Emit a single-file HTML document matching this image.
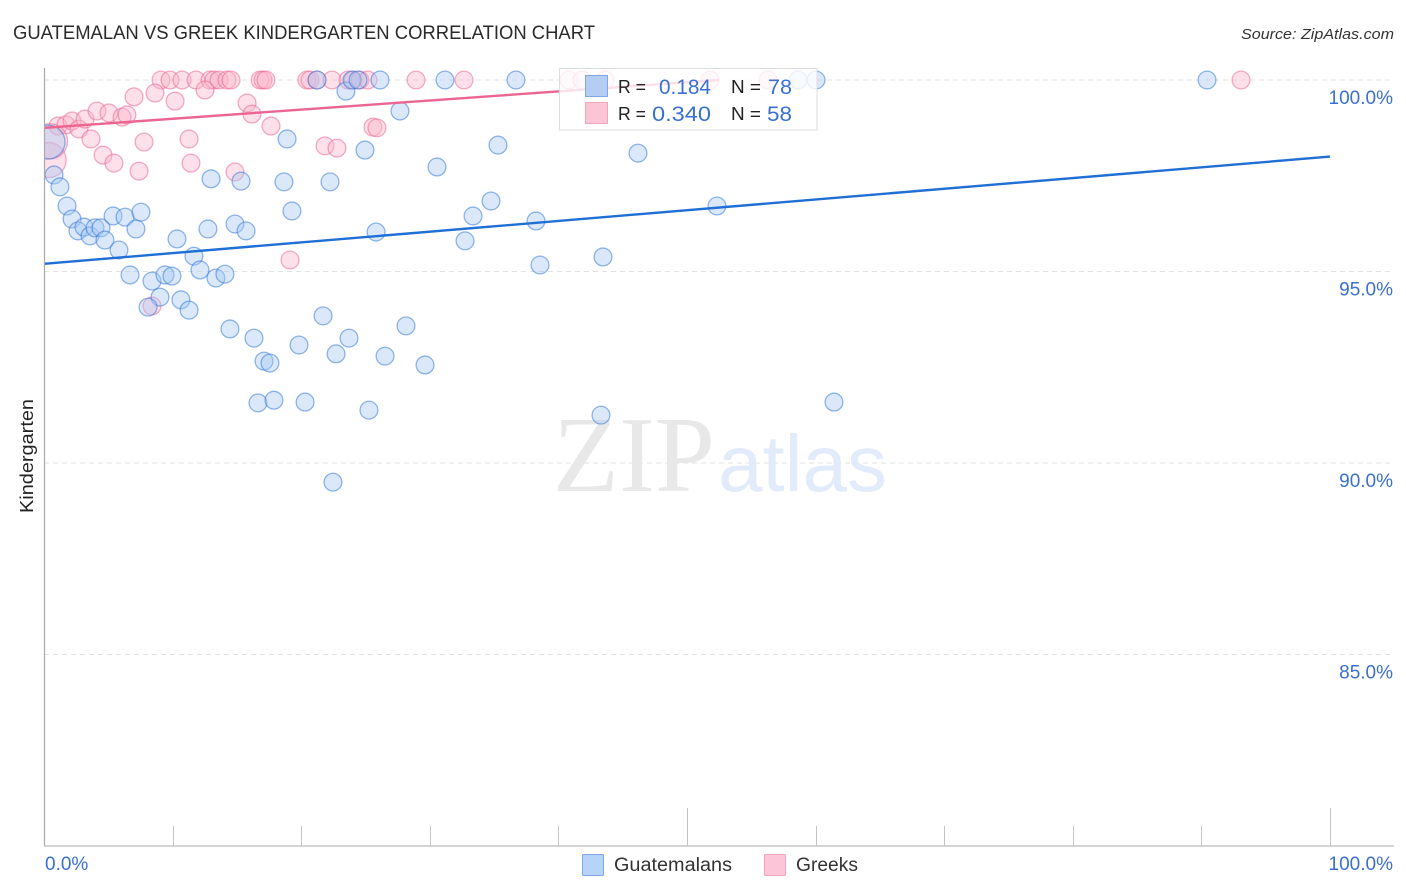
<!DOCTYPE html>
<html lang="en">
<head>
<meta charset="utf-8">
<title>Guatemalan vs Greek Kindergarten Correlation Chart</title>
<style>
html,body{margin:0;padding:0;background:#fff;width:1406px;height:892px;overflow:hidden}
svg{display:block;font-family:"Liberation Sans",sans-serif}
</style>
</head>
<body>
<svg id="chart" xmlns="http://www.w3.org/2000/svg" width="1406" height="892" viewBox="0 0 1406 892">
  <defs><clipPath id="plot-clip"><rect x="45" y="60" width="1350" height="786"/></clipPath></defs>
  <text x="13" y="39" font-size="19.5" fill="#2a2a2a" textLength="582" lengthAdjust="spacingAndGlyphs">GUATEMALAN VS GREEK KINDERGARTEN CORRELATION CHART</text>
  <text x="1241" y="39" font-size="15" font-style="italic" fill="#333" textLength="153" lengthAdjust="spacingAndGlyphs">Source: ZipAtlas.com</text>
  <text transform="translate(33,513) rotate(-90)" font-size="18" fill="#222" textLength="114" lengthAdjust="spacingAndGlyphs">Kindergarten</text>
  <g id="grid"></g>
  <g>
    <text x="553" y="491" font-family="'Liberation Serif',serif" font-size="108" fill="#e8e8e8" textLength="162" lengthAdjust="spacingAndGlyphs">ZIP</text>
    <text x="718" y="491" font-size="80" fill="#e2ebf9" textLength="169" lengthAdjust="spacingAndGlyphs">atlas</text>
  </g>
  <g id="points" clip-path="url(#plot-clip)"></g>
  <g id="trends"></g>
  <g id="axes"></g>
  <g>
    <rect x="559.5" y="68.5" width="257.5" height="61.5" fill="#fff" fill-opacity="0.8" stroke="#ddd" stroke-width="1"/>
    <rect x="585.5" y="75.5" width="22" height="21" fill="#b3cdf3" stroke="#7da7e6"/>
    <rect x="585.5" y="102.5" width="22" height="21" fill="#fcc5d6" stroke="#f2a5bf"/>
    <text x="618" y="93" font-size="18" fill="#222" textLength="28" lengthAdjust="spacingAndGlyphs">R =</text>
    <text x="659" y="94" font-size="21" fill="#3a70d2" textLength="52" lengthAdjust="spacingAndGlyphs">0.184</text>
    <text x="731" y="93" font-size="18" fill="#222" textLength="30" lengthAdjust="spacingAndGlyphs">N =</text>
    <text x="768" y="94" font-size="21" fill="#3a70d2" textLength="24" lengthAdjust="spacingAndGlyphs">78</text>
    <text x="618" y="120" font-size="18" fill="#222" textLength="28" lengthAdjust="spacingAndGlyphs">R =</text>
    <text x="652" y="121" font-size="21" fill="#3a70d2" textLength="59" lengthAdjust="spacingAndGlyphs">0.340</text>
    <text x="731" y="120" font-size="18" fill="#222" textLength="30" lengthAdjust="spacingAndGlyphs">N =</text>
    <text x="767" y="121" font-size="21" fill="#3a70d2" textLength="25" lengthAdjust="spacingAndGlyphs">58</text>
  </g>
  <g>
    <rect x="582.5" y="854.5" width="21" height="21" rx="1" fill="#b6d3f8" stroke="#7da7e6"/>
    <text x="614" y="871" font-size="19" fill="#333" textLength="118" lengthAdjust="spacingAndGlyphs">Guatemalans</text>
    <rect x="764.5" y="854.5" width="21" height="21" rx="1" fill="#fdc6d8" stroke="#f2a5bf"/>
    <text x="796" y="871" font-size="19" fill="#333" textLength="62" lengthAdjust="spacingAndGlyphs">Greeks</text>
  </g>
</svg>
<script>
const yTickValues = [100, 95, 90, 85];
const yTickLabels = ["100.0%", "95.0%", "90.0%", "85.0%"];
const xTickValues = [0, 10, 20, 30, 40, 50, 60, 70, 80, 90, 100];
const xMajorTicks = [50, 100];
const xEdgeLabels = ["0.0%", "100.0%"];

const guatemalanX = [0.78,1.24,1.79,2.18,2.64,3.11,3.58,3.97,4.43,4.74,5.37,5.83,6.30,7.15,7.54,6.69,8.40,9.02,8.09,9.41,9.95,10.65,11.28,10.34,11.66,12.13,12.75,12.99,13.37,14.07,14.46,14.85,15.32,15.71,16.33,17.11,17.57,16.64,17.88,18.66,18.90,19.28,19.83,20.30,21.23,21.70,22.24,22.47,22.71,23.48,23.72,23.95,24.42,24.96,25.27,25.82,26.13,26.52,27.68,28.15,29.63,30.56,31.18,32.74,33.36,34.76,35.30,36.70,38.26,38.57,43.31,43.47,46.19,52.33,58.63,60.03,61.43,90.44];
const guatemalanY = [97.52,97.21,96.71,96.37,96.06,96.16,95.93,96.14,96.14,95.82,96.45,95.56,96.42,96.11,96.55,94.91,94.75,94.33,94.07,94.91,94.88,94.26,93.99,95.85,95.40,95.04,96.11,97.42,94.83,94.93,93.50,96.24,97.36,96.06,93.26,92.66,92.61,91.57,91.64,97.34,98.46,96.58,93.08,91.59,100,93.84,97.34,89.50,92.85,99.71,93.26,100,100,98.17,91.38,96.03,100,92.79,99.19,93.58,92.56,97.73,100,95.80,96.45,96.84,98.30,100,96.32,95.17,91.25,95.38,98.09,96.71,100,100,91.59,100];
const guatemalanHeavyX = [0.31];
const guatemalanHeavyY = [98.38];

const greekX = [9.10,9.80,10.73,11.82,12.91,13.22,13.61,14.23,14.54,16.80,17.03,17.26,20.45,20.68,21.23,22.40,23.64,24.03,24.57,25.19,28.93,32.66,40.82,41.84,43.62,51.79,56.30,93.08,8.63,10.19,12.52,15.79,16.17,17.65,11.28,11.43,14.85,21.85,22.78,25.58,25.89,19.13,8.40,1.09,1.71,2.18,2.72,3.19,4.12,5.05,6.07,6.45,7.00,3.65,4.59,5.44,7.39,7.78];
const greekY = [100,100,100,100,100,100,100,100,100,100,100,100,100,100,100,100,100,100,100,100,100,100,100,100,100,100,100,100,99.66,99.45,99.74,99.40,99.11,98.80,98.46,97.83,97.60,98.28,98.22,98.77,98.75,95.30,94.10,98.80,98.83,98.93,98.72,98.98,99.19,99.14,99.03,99.09,99.56,98.46,98.04,97.83,97.62,98.38];
const greekHeavyX = [0.36, 0.47];
const greekHeavyY = [97.91, 98.40];

const guatemalanTrendX = [0, 100];
const guatemalanTrendY = [95.2, 98.0];
const greekTrendX = [0, 52.5];
const greekTrendY = [98.75, 100];

const NS = 'http://www.w3.org/2000/svg';
function xScale(v) { return 44 + v * 12.86; }
function yScale(v) { return 80 + (100 - v) * 38.3; }
function make(tag, attrs, parent) {
  const el = document.createElementNS(NS, tag);
  for (const k in attrs) el.setAttribute(k, attrs[k]);
  parent.appendChild(el);
  return el;
}

const grid = document.getElementById('grid');
const axes = document.getElementById('axes');
const points = document.getElementById('points');
const trends = document.getElementById('trends');

yTickValues.forEach(function (v, i) {
  const line = make('line', {x1: 44, x2: 1394, y1: yScale(v), y2: yScale(v), stroke: '#e2e2e2', 'stroke-width': 1, 'stroke-dasharray': '5 4'}, grid);
  
  
  const label = make('text', {x: 1393, y: yScale(v) + 24, 'text-anchor': 'end', 'font-size': 19, fill: '#3a70d2'}, axes);
  label.textContent = yTickLabels[i];
  
  
});

const yAxis = make('line', {x1: 44.5, x2: 44.5, y1: 68, y2: 846, stroke: '#aaa', 'stroke-width': 1.2}, axes);


const xAxis = make('line', {x1: 44, x2: 1394, y1: 846, y2: 846, stroke: '#bbb', 'stroke-width': 1.2}, axes);



xTickValues.forEach(function (v) {
  if (v === 0) return;
  const top = xMajorTicks.indexOf(v) >= 0 ? 808 : 826;
  const px = Math.round(xScale(v)) + 0.5;
  const tick = make('line', {x1: px, x2: px, y1: top, y2: 846, stroke: '#c4c4c4', 'stroke-width': 1}, axes);
  
  
});

const xLabelLeft = make('text', {x: 45, y: 870, 'font-size': 19, fill: '#3a70d2'}, axes);
xLabelLeft.textContent = xEdgeLabels[0];


const xLabelRight = make('text', {x: 1393, y: 870, 'text-anchor': 'end', 'font-size': 19, fill: '#3a70d2'}, axes);
xLabelRight.textContent = xEdgeLabels[1];



function drawPoint(x, y, r, fill, stroke, name) {
  const c = make('circle', {cx: xScale(x), cy: yScale(y), r: r, fill: fill, 'fill-opacity': 0.42, stroke: stroke, 'stroke-opacity': 0.52, 'stroke-width': 1.3}, points);
  
  
}
greekX.forEach(function (x, i) { drawPoint(x, greekY[i], 8.9, '#fbb4cb', '#e8648f', 'point-greek'); });
greekHeavyX.forEach(function (x, i) { drawPoint(x, greekHeavyY[i], 17.5, '#fbb4cb', '#e8648f', 'point-greek-large'); });
guatemalanX.forEach(function (x, i) { drawPoint(x, guatemalanY[i], 8.9, '#a8c8f4', '#2f74d6', 'point-guatemalan'); });
guatemalanHeavyX.forEach(function (x, i) { drawPoint(x, guatemalanHeavyY[i], 17, '#a8c8f4', '#2f74d6', 'point-guatemalan-large'); });

const blueTrend = make('line', {x1: xScale(guatemalanTrendX[0]), y1: yScale(guatemalanTrendY[0]), x2: xScale(guatemalanTrendX[1]), y2: yScale(guatemalanTrendY[1]), stroke: '#1f6fd6', 'stroke-width': 2.4}, trends);


const pinkTrend = make('line', {x1: xScale(greekTrendX[0]), y1: yScale(greekTrendY[0]), x2: xScale(greekTrendX[1]), y2: yScale(greekTrendY[1]), stroke: '#ec6490', 'stroke-width': 2.4}, trends);


</script>
</body>
</html>
